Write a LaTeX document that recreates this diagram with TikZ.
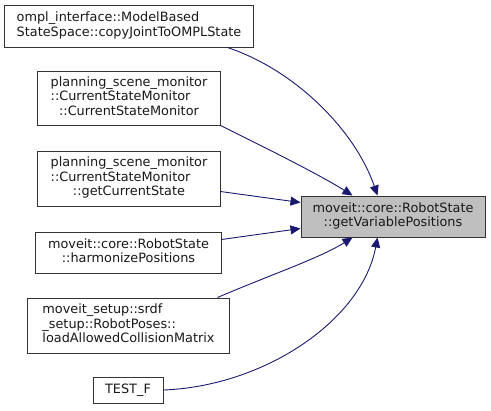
\documentclass[tikz,border=0pt]{standalone}
\usepackage{fontspec}
\setmainfont{DejaVu Sans}
\usetikzlibrary{arrows.meta,calc}
\definecolor{edgeblue}{RGB}{25,25,112}
\definecolor{hilite}{RGB}{191,191,191}
\newcommand{\twolab}[2]{\begin{tabular}{@{}l@{}}#1\\\multicolumn{1}{@{}c@{}}{#2}\end{tabular}}
\newcommand{\threelab}[3]{\begin{tabular}{@{}l@{}}#1\\#2\\\multicolumn{1}{@{}c@{}}{#3}\end{tabular}}
\begin{document}
\begin{tikzpicture}[x=1bp,y=-1bp,
  box/.style={draw=black!80,line width=1bp,fill=white,inner sep=0pt,
    font=\fontsize{12.9}{14.6}\selectfont,text=black!90},
  edge/.style={draw=edgeblue,line width=0.9bp,-{Triangle[length=10bp,width=9bp]},fill=none},
  ]
\useasboundingbox (0,0) rectangle (491,410);
\node[box,minimum width=248bp,minimum height=42bp] (b1) at (129,26)
  {\twolab{ompl\_interface::ModelBased}{StateSpace::copyJointToOMPLState}};
\node[box,minimum width=182bp,minimum height=54bp] (b2) at (129,98)
  {\threelab{planning\_scene\_monitor}{::CurrentStateMonitor}{::CurrentStateMonitor}};
\node[box,minimum width=182bp,minimum height=55bp] (b3) at (129,178.5)
  {\threelab{planning\_scene\_monitor}{::CurrentStateMonitor}{::getCurrentState}};
\node[box,minimum width=185bp,minimum height=41bp] (b4) at (128.5,252.5)
  {\twolab{moveit::core::RobotState}{::harmonizePositions}};
\node[box,minimum width=201bp,minimum height=55bp] (b5) at (128.5,325.5)
  {\threelab{moveit\_setup::srdf}{\_setup::RobotPoses::}{loadAllowedCollisionMatrix}};
\node[box,minimum width=70bp,minimum height=26bp] (b6) at (128,390)
  {TEST\_F};
\node[box,fill=hilite,minimum width=184bp,minimum height=41bp] (c) at (393,216.5)
  {\twolab{moveit::core::RobotState}{::getVariablePositions}};
\draw[edge] ($(b1.south west)+(223,0)$) .. controls (295,70) and (355,130) .. ($(c.north west)+(77,0)$);
\draw[edge] (b2.south east) .. controls (270,150) and (320,175) .. ($(c.north west)+(52,0)$);
\draw[edge] ($(b3.north east)+(0,41)$) -- ($(c.north west)+(0,7)$);
\draw[edge] ($(b4.north east)+(0,8)$) -- ($(c.north west)+(0,33)$);
\draw[edge] ($(b5.north west)+(190,0)$) .. controls (270,275) and (320,258) .. ($(c.south west)+(52,0)$);
\draw[edge] (b6.east) .. controls (265,386) and (362,320) .. ($(c.south west)+(77,0)$);
\end{tikzpicture}
\end{document}
